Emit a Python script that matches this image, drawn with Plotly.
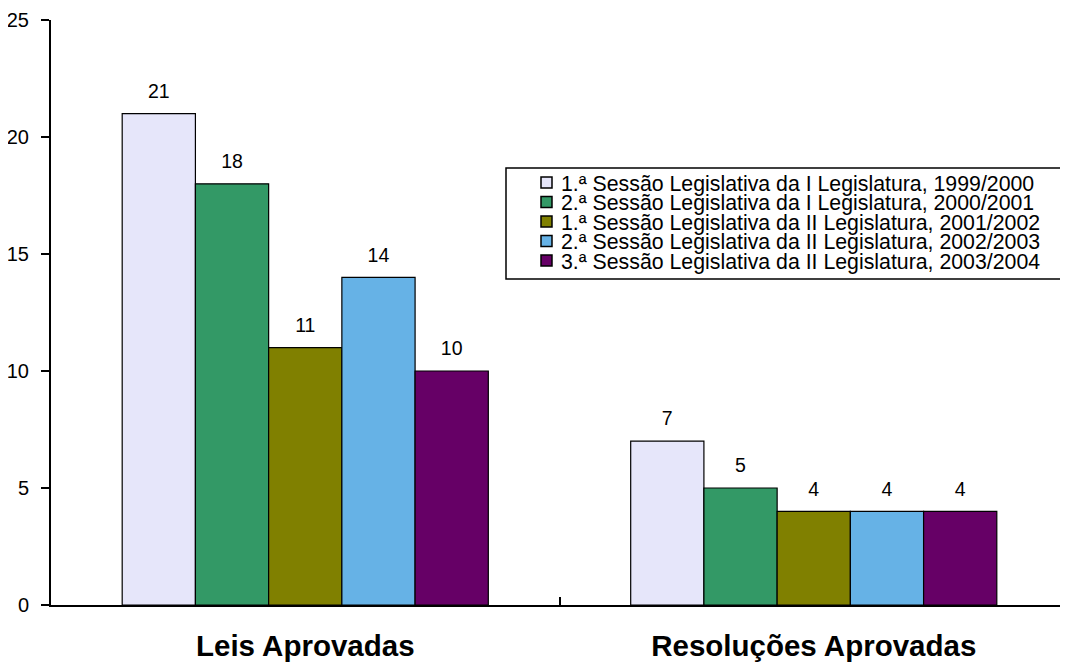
import plotly.graph_objects as go

categories = ["Leis Aprovadas", "Resoluções Aprovadas"]
series_names = [
    "1.ª Sessão Legislativa da I Legislatura, 1999/2000",
    "2.ª Sessão Legislativa da I Legislatura, 2000/2001",
    "1.ª Sessão Legislativa da II Legislatura, 2001/2002",
    "2.ª Sessão Legislativa da II Legislatura, 2002/2003",
    "3.ª Sessão Legislativa da II Legislatura, 2003/2004",
]
series_values = [
    [21, 7],
    [18, 5],
    [11, 4],
    [14, 4],
    [10, 4],
]
colors = ["#E6E6FA", "#339966", "#808000", "#66B2E6", "#660066"]
y_ticks = [0, 5, 10, 15, 20, 25]

FONT = "Liberation Sans, Arial, sans-serif"
# the page body adds an 8px margin, so the figure is drawn at (8, 8)
OFF = 8
W, H = 1068 - OFF, 666 - OFF
ML, MT = 51 - OFF, 20 - OFF
PLOT_RIGHT, PLOT_BOTTOM = 1068 - OFF, 605 - OFF
MR, MB = W - PLOT_RIGHT, H - PLOT_BOTTOM
PW, PH = W - ML - MR, H - MT - MB

def px_x(px):
    return (px - OFF - ML) / PW

def px_y(py):
    return (PLOT_BOTTOM - (py - OFF)) / PH

fig = go.Figure()
for name, vals, col in zip(series_names, series_values, colors):
    fig.add_trace(go.Bar(
        x=categories, y=vals, name=name, offsetgroup=name,
        marker=dict(color=col, line=dict(color="black", width=1.2)),
        showlegend=False, hoverinfo="skip",
    ))
for name, vals in zip(series_names, series_values):
    fig.add_trace(go.Scatter(
        x=categories, y=vals, mode="markers+text", offsetgroup=name,
        marker=dict(size=16, opacity=0),
        text=[str(v) for v in vals], textposition="top center",
        textfont=dict(size=19.5, color="black", family=FONT),
        cliponaxis=False, showlegend=False, hoverinfo="skip",
    ))

# legend box drawn as shapes + text
shapes = [dict(type="rect", xref="paper", yref="paper",
               x0=px_x(506), x1=px_x(1064), y0=px_y(279), y1=px_y(168),
               line=dict(color="black", width=1.5), fillcolor="white", layer="above")]
annotations = []
row_y = [182.5, 202, 221.5, 241, 260.5]
for name, col, ry in zip(series_names, colors, row_y):
    shapes.append(dict(type="rect", xref="paper", yref="paper",
                       x0=px_x(541), x1=px_x(552), y0=px_y(ry + 5.5), y1=px_y(ry - 5.5),
                       line=dict(color="black", width=1.5), fillcolor=col, layer="above"))
    annotations.append(dict(xref="paper", yref="paper", x=px_x(559), y=px_y(ry + 1),
                            text=name, showarrow=False, xanchor="left", yanchor="middle",
                            font=dict(size=21.3, color="black", family=FONT)))

fig.update_layout(
    width=W, height=H,
    margin=dict(l=ML, r=MR, t=MT, b=MB, autoexpand=False),
    paper_bgcolor="white", plot_bgcolor="white",
    barmode="group", bargap=0.28, bargroupgap=0,
    scattermode="group", scattergap=0.28,
    font=dict(family=FONT, color="black"),
    showlegend=False,
    shapes=shapes, annotations=annotations,
    xaxis=dict(
        automargin=False,
        showline=True, linecolor="black", linewidth=2,
        ticks="inside", tickson="boundaries", ticklen=8, tickcolor="black", tickwidth=1.5,
        tickfont=dict(size=29.5, color="black", family=FONT),
        tickprefix="<b>", ticksuffix="</b>", ticklabelstandoff=14,
        showgrid=False,
    ),
    yaxis=dict(
        automargin=False,
        range=[0, 25], tickvals=y_ticks,
        showline=True, linecolor="black", linewidth=2,
        ticks="outside", ticklen=8, tickcolor="black", tickwidth=1.5,
        tickfont=dict(size=20, color="black"), ticklabelstandoff=8,
        showgrid=False, zeroline=False,
    ),
)

fig.write_html("out.html")
